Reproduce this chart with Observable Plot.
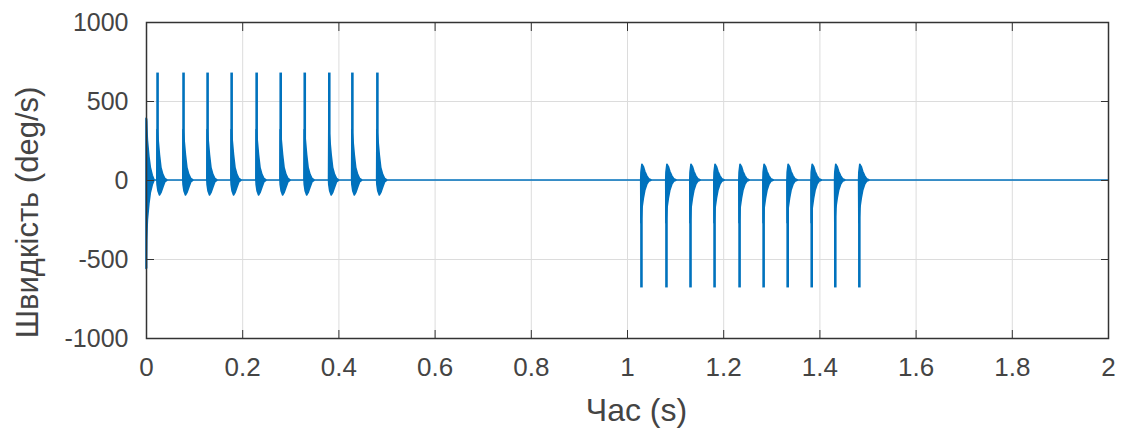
<!DOCTYPE html>
<html>
<head>
<meta charset="utf-8">
<script src="https://cdn.jsdelivr.net/npm/d3@7"></script>
<script src="https://cdn.jsdelivr.net/npm/@observablehq/plot@0.6"></script>
<style>
  html, body { margin: 0; padding: 0; background: #fff; }
  #chart { width: 1128px; height: 430px; }
</style>
</head>
<body>
<div id="chart"></div>
<script>
// ---- tick labels ----
const xTicks = [0, 0.2, 0.4, 0.6, 0.8, 1, 1.2, 1.4, 1.6, 1.8, 2];
const yTicks = [-1000, -500, 0, 500, 1000];

// ---- first burst: positive spikes (times in s, peaks in deg/s) ----
const burst1Times = [0.023, 0.077, 0.127, 0.177, 0.229, 0.279, 0.329, 0.380, 0.428, 0.480];
const burst1Peaks = [680, 680, 680, 680, 680, 680, 680, 680, 680, 680];

// ---- second burst: negative spikes ----
const burst2Times = [1.029, 1.081, 1.131, 1.181, 1.233, 1.283, 1.333, 1.383, 1.432, 1.482];
const burst2Troughs = [-680, -680, -680, -680, -680, -680, -680, -680, -680, -680];

// ---- oscillation envelope read after each positive spike (offset s, upper, lower) ----
const posDt = [0, 0.002, 0.005, 0.008, 0.012, 0.016, 0.021];
const posHi = [320, 260, 160, 80, 35, 10, 0];
const posLo = [-30, -70, -95, -80, -45, -12, 0];

// ---- oscillation envelope after each negative spike ----
const negDt = [0, 0.002, 0.005, 0.008, 0.012, 0.016, 0.022];
const negHi = [50, 100, 85, 55, 28, 8, 0];
const negLo = [-270, -180, -115, -65, -28, -8, 0];

// ---- start-up transient at t = 0 ----
const startT = [0, 0.001, 0.003, 0.006, 0.009, 0.013, 0.017];
const startHi = [390, 370, 250, 150, 80, 30, 0];
const startLo = [-560, -380, -250, -150, -80, -30, 0];

// ---- build envelope table ----
const env = [];
startT.forEach((t, i) => env.push({t, hi: startHi[i], lo: startLo[i]}));
function addBurst(times, dts, his, los) {
  times.forEach(t0 => {
    env.push({t: t0 - 0.0005, hi: 0, lo: 0});
    dts.forEach((dt, i) => env.push({t: t0 + dt, hi: his[i], lo: los[i]}));
  });
}
addBurst(burst1Times, posDt, posHi, posLo);
addBurst(burst2Times, negDt, negHi, negLo);
env.push({t: 2, hi: 0, lo: 0});
env.sort((a, b) => a.t - b.t);

const spikes = [
  ...burst1Times.map((t, i) => ({t, v: burst1Peaks[i]})),
  ...burst2Times.map((t, i) => ({t, v: burst2Troughs[i]}))
];

const blue = "#0072BD";
const axisColor = "#333";
const textColor = "#444";

const chart = Plot.plot({
  width: 1128,
  height: 430,
  marginLeft: 146,
  marginRight: 20,
  marginTop: 22,
  marginBottom: 92,
  x: {domain: [0, 2]},
  y: {domain: [-1000, 1000]},
  style: {fontFamily: "'Liberation Sans', Arial, sans-serif", fontSize: "25px", color: textColor, background: "#fff"},
  marks: [
    Plot.gridX(xTicks, {stroke: "#dcdcdc", strokeOpacity: 1, strokeWidth: 1}),
    Plot.gridY(yTicks, {stroke: "#dcdcdc", strokeOpacity: 1, strokeWidth: 1}),
    Plot.areaY(env, {x: "t", y1: "lo", y2: "hi", fill: blue, stroke: blue, strokeWidth: 1.6, curve: "linear"}),
    Plot.ruleX(spikes, {x: "t", y1: 0, y2: "v", stroke: blue, strokeWidth: 2.6}),
    Plot.ruleX([0.0008], {y1: startLo[0], y2: startHi[0], stroke: blue, strokeWidth: 1.5, strokeOpacity: 0.7}),
    Plot.frame({stroke: axisColor, strokeWidth: 1.5}),
    // inward tick marks on all four sides
    Plot.axisX({anchor: "bottom", ticks: xTicks, tickSize: -8, tickFormat: () => "", label: null, stroke: axisColor}),
    Plot.axisX({anchor: "top", ticks: xTicks, tickSize: -8, tickFormat: () => "", label: null, stroke: axisColor}),
    Plot.axisY({anchor: "left", ticks: yTicks, tickSize: -8, tickFormat: () => "", label: null, stroke: axisColor}),
    Plot.axisY({anchor: "right", ticks: yTicks, tickSize: -8, tickFormat: () => "", label: null, stroke: axisColor}),
    // tick labels
    Plot.axisX({anchor: "bottom", ticks: xTicks, tickSize: 0, tickPadding: 19, label: null, fontSize: 26, fill: textColor, tickFormat: d => String(d)}),
    Plot.axisY({anchor: "left", ticks: yTicks, tickSize: 0, tickPadding: 18, label: null, fontSize: 25, fill: textColor, tickFormat: d => String(d)}),
    // axis titles
    Plot.text(["Швидкість (deg/s)"], {frameAnchor: "left", textAnchor: "middle", lineAnchor: "middle", dx: -118, dy: 32, rotate: -90, fontSize: 31, fill: textColor, text: d => d}),
    Plot.text(["Час (s)"], {frameAnchor: "bottom", textAnchor: "middle", lineAnchor: "middle", dx: 9, dy: 72, fontSize: 32, fill: textColor, text: d => d})
  ]
});
document.getElementById("chart").appendChild(chart);
</script>
</body>
</html>
